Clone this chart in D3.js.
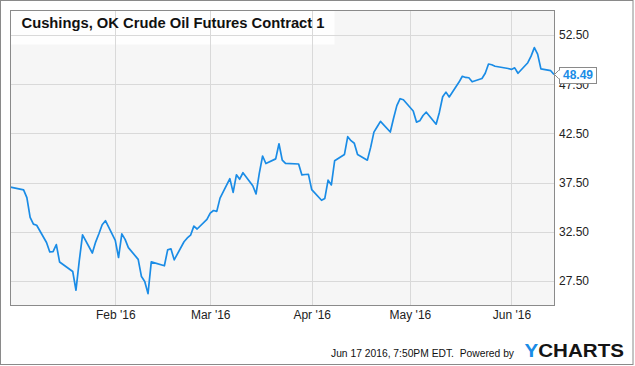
<!DOCTYPE html>
<html>
<head>
<meta charset="utf-8">
<script src="https://cdn.jsdelivr.net/npm/d3@7"></script>
<style>
  html, body { margin: 0; padding: 0; background: #fff; }
  svg { display: block; font-family: "Liberation Sans", Arial, sans-serif; }
</style>
</head>
<body>
<svg id="chart" width="635" height="366"></svg>
<script>
// ---- data ----
const title = "Cushings, OK Crude Oil Futures Contract 1";
const dates = [
  "2015-12-31",
  "2016-01-04","2016-01-05","2016-01-06","2016-01-07","2016-01-08",
  "2016-01-11","2016-01-12","2016-01-13","2016-01-14","2016-01-15",
  "2016-01-19","2016-01-20","2016-01-21","2016-01-22",
  "2016-01-25","2016-01-26","2016-01-27","2016-01-28","2016-01-29",
  "2016-02-01","2016-02-02","2016-02-03","2016-02-04","2016-02-05",
  "2016-02-08","2016-02-09","2016-02-10","2016-02-11","2016-02-12",
  "2016-02-16","2016-02-17","2016-02-18","2016-02-19",
  "2016-02-22","2016-02-23","2016-02-24","2016-02-25","2016-02-26",
  "2016-02-29","2016-03-01","2016-03-02","2016-03-03","2016-03-04",
  "2016-03-07","2016-03-08","2016-03-09","2016-03-10","2016-03-11",
  "2016-03-14","2016-03-15","2016-03-16","2016-03-17","2016-03-18",
  "2016-03-21","2016-03-22","2016-03-23","2016-03-24",
  "2016-03-28","2016-03-29","2016-03-30","2016-03-31","2016-04-01",
  "2016-04-04","2016-04-05","2016-04-06","2016-04-07","2016-04-08",
  "2016-04-11","2016-04-12","2016-04-13","2016-04-14","2016-04-15",
  "2016-04-18","2016-04-19","2016-04-20","2016-04-21","2016-04-22",
  "2016-04-25","2016-04-26","2016-04-27","2016-04-28","2016-04-29",
  "2016-05-02","2016-05-03","2016-05-04","2016-05-05","2016-05-06",
  "2016-05-09","2016-05-10","2016-05-11","2016-05-12","2016-05-13",
  "2016-05-16","2016-05-17","2016-05-18","2016-05-19","2016-05-20",
  "2016-05-23","2016-05-24","2016-05-25","2016-05-26","2016-05-27",
  "2016-05-31","2016-06-01","2016-06-02","2016-06-03",
  "2016-06-06","2016-06-07","2016-06-08","2016-06-09","2016-06-10",
  "2016-06-13","2016-06-14"
];
const prices = [
  37.04,
  36.76,35.97,33.97,33.27,33.16,
  31.41,30.44,30.48,31.20,29.42,
  28.46,26.55,29.53,32.19,
  30.34,31.45,32.30,33.22,33.62,
  31.62,29.88,32.28,31.72,30.89,
  29.69,27.94,27.45,26.21,29.44,
  29.04,30.66,30.77,29.64,
  31.48,31.87,32.15,33.07,32.78,
  33.75,34.40,34.66,34.57,35.92,
  37.90,36.50,38.29,37.84,38.50,
  37.18,36.34,38.46,40.20,39.44,
  39.91,41.45,39.79,39.46,
  39.39,38.28,38.32,38.34,36.79,
  35.70,35.89,37.75,37.26,39.72,
  40.36,42.17,41.76,41.50,40.36,
  39.78,41.08,42.63,43.18,43.73,
  42.64,44.04,45.33,46.03,45.92,
  44.78,43.65,43.78,44.32,44.66,
  43.44,44.66,46.23,46.70,46.21,
  47.72,48.31,48.19,48.16,47.75,
  48.08,48.62,49.56,49.48,49.33,
  49.10,49.01,49.17,48.62,
  49.69,50.36,51.23,50.56,49.07,
  48.88,48.49
];
const yTicks = [27.5, 32.5, 37.5, 42.5, 47.5, 52.5];
const xTickDates = ["2016-02-01","2016-03-01","2016-04-01","2016-05-01","2016-06-01"];
const xTickLabels = ["Feb '16","Mar '16","Apr '16","May '16","Jun '16"];
const lastLabel = "48.49";
const footerText = "Jun 17 2016, 7:50PM EDT.  Powered by";

// ---- drawing ----
const parse = d3.timeParse("%Y-%m-%d");
const data = dates.map((d, i) => ({ date: parse(d), value: prices[i] }));

const svg = d3.select("#chart");
const L = 10.5, R = 554.5, T = 10.5, B = 305.5;

const x = d3.scaleTime()
  .domain([parse("2015-12-31"), parse("2016-06-14")])
  .range([L, R - 0.5]);
const y = d3.scaleLinear().domain([25, 55]).range([B, T]);

// outer border
svg.append("rect").attr("x", 0.5).attr("y", 0.5).attr("width", 632.5).attr("height", 364)
  .attr("fill", "#fff").attr("stroke", "#8a8a8a").attr("stroke-width", 1);

// plot background
svg.append("rect").attr("x", L).attr("y", T).attr("width", R - L).attr("height", B - T)
  .attr("fill", "#f6f6f6");

// title box
svg.append("rect").attr("x", L).attr("y", T).attr("width", 324).attr("height", 34)
  .attr("fill", "#ffffff").attr("opacity", 0.85);

// gridlines
svg.append("g").selectAll("line").data(yTicks).join("line")
  .attr("x1", L).attr("x2", R)
  .attr("y1", d => Math.round(y(d)) + 0.5).attr("y2", d => Math.round(y(d)) + 0.5)
  .attr("stroke", "#d9d9d9").attr("stroke-width", 1);

svg.append("g").selectAll("line").data(xTickDates).join("line")
  .attr("x1", d => Math.round(x(parse(d))) + 0.5).attr("x2", d => Math.round(x(parse(d))) + 0.5)
  .attr("y1", T).attr("y2", B)
  .attr("stroke", "#d9d9d9").attr("stroke-width", 1);

// line
const line = d3.line().x(d => x(d.date)).y(d => y(d.value));
svg.append("path").datum(data)
  .attr("d", line)
  .attr("fill", "none")
  .attr("stroke", "#1a8ce6")
  .attr("stroke-width", 1.7)
  .attr("stroke-linejoin", "round");

// plot border
svg.append("rect").attr("x", L).attr("y", T).attr("width", R - L).attr("height", B - T)
  .attr("fill", "none").attr("stroke", "#8a8a8a").attr("stroke-width", 1);

// title
svg.append("text").attr("x", 21.5).attr("y", 28)
  .attr("font-size", 14).attr("font-weight", "bold").attr("fill", "#111")
  .attr("textLength", 303).attr("lengthAdjust", "spacingAndGlyphs")
  .text(title);

// y axis labels (right)
const yAxis = d3.axisRight(y).tickValues(yTicks).tickFormat(d3.format(".2f")).tickSize(0).tickPadding(0);
const gy = svg.append("g").attr("transform", `translate(${R + 4.5},0)`).call(yAxis);
gy.select(".domain").remove();
gy.selectAll("text").attr("font-size", 12).attr("fill", "#222")
  .attr("font-family", "'Liberation Sans', Arial, sans-serif");

// x axis labels
const xAxis = d3.axisBottom(x).tickValues(xTickDates.map(parse))
  .tickFormat((d, i) => xTickLabels[i]).tickSize(0).tickPadding(0);
const gx = svg.append("g").attr("transform", `translate(0,${B + 5})`).call(xAxis);
gx.select(".domain").remove();
gx.selectAll("text").attr("font-size", 12).attr("fill", "#222")
  .attr("font-family", "'Liberation Sans', Arial, sans-serif");

// last value marker
const last = data[data.length - 1];
const ly = y(last.value);
const bx = 559.5, bw = 37, bh = 16;
const marker = svg.append("g");
marker.append("path")
  .attr("d", `M${bx},${ly - 5} L${R},${ly} L${bx},${ly + 5}`)
  .attr("fill", "#fff").attr("stroke", "#8a8a8a").attr("stroke-width", 1);
marker.append("rect").attr("x", bx).attr("y", Math.round(ly - bh / 2) + 0.5)
  .attr("width", bw).attr("height", bh)
  .attr("fill", "#fff").attr("stroke", "#8a8a8a").attr("stroke-width", 1);
marker.append("rect").attr("x", bx - 1).attr("y", ly - 4).attr("width", 2).attr("height", 8).attr("fill", "#fff");
marker.append("text").attr("x", bx + bw / 2).attr("y", ly + 4.5)
  .attr("text-anchor", "middle").attr("font-size", 12).attr("font-weight", "bold")
  .attr("fill", "#1a8ce6").text(lastLabel);

// footer
svg.append("text").attr("x", 331).attr("y", 357)
  .attr("font-size", 11).attr("fill", "#111").attr("xml:space", "preserve")
  .attr("textLength", 183).attr("lengthAdjust", "spacingAndGlyphs")
  .text(footerText);
const logo = svg.append("text").attr("x", 524.5).attr("y", 357)
  .attr("font-size", 19).attr("font-weight", "bold")
  .attr("textLength", 99.5).attr("lengthAdjust", "spacingAndGlyphs");
logo.append("tspan").attr("fill", "#1a8ce6").text("Y");
logo.append("tspan").attr("fill", "#141414").text("CHARTS");
</script>
</body>
</html>
